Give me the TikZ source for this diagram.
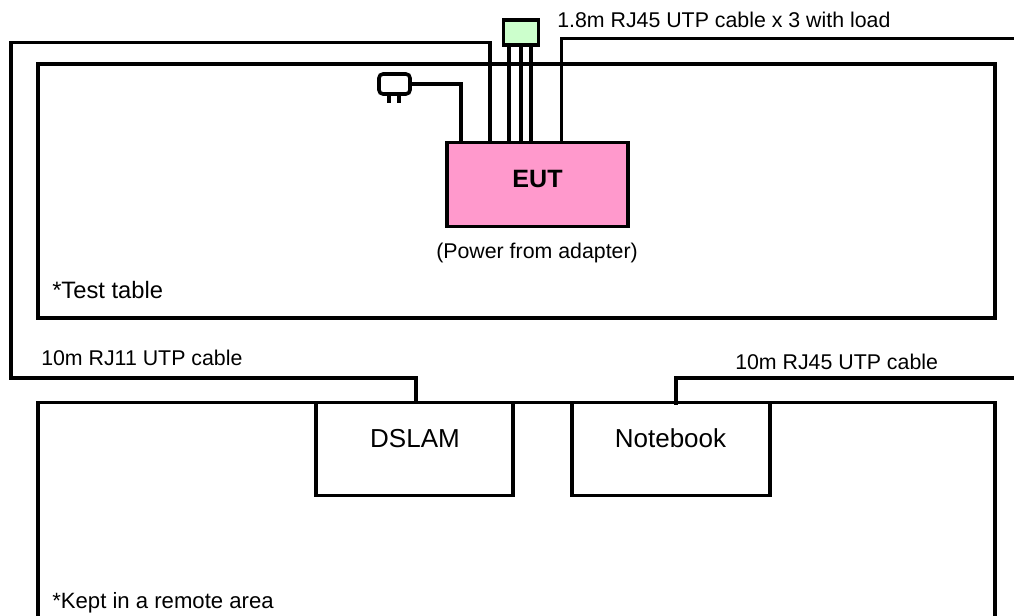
\documentclass[tikz,border=0pt]{standalone}
\usepackage{fontspec}
\setmainfont{Liberation Sans}
\tikzset{
  px/.style={x=0.75pt,y=-0.75pt},
  wire/.style={draw=black,line width=2.7pt,line join=miter},
  box/.style={draw=black,line width=2.7pt,fill=white,inner sep=0pt,outer sep=0pt,anchor=north west},
  lbl/.style={inner sep=0pt,anchor=base west,font=\fontsize{16pt}{19pt}\selectfont},
  boxlbl/.style={inner sep=0pt,anchor=base,font=\fontsize{19.5pt}{23pt}\selectfont}
}
\begin{document}
\begin{tikzpicture}[px]
\useasboundingbox (0,0) rectangle (1014,616);
\fill[white] (0,0) rectangle (1014,616);
% frames
\node[box,minimum width=957*0.75pt,minimum height=254*0.75pt] (table) at (38,64) {};
\node[box,minimum width=957*0.75pt,minimum height=240*0.75pt] (remote) at (38,402.5) {};
% hardware boxes
\node[box,minimum width=181*0.75pt,minimum height=84*0.75pt,fill={rgb,255:red,255;green,153;blue,204}] (eut) at (447,142.5) {};
\node[font=\fontsize{18.8pt}{22pt}\selectfont\bfseries,inner sep=0pt,anchor=base] (eutl) at (537.5,187.5) {EUT};
\node[box,minimum width=197*0.75pt,minimum height=93*0.75pt] (dslam) at (316,402.5) {};
\node[boxlbl] (dslaml) at (415,448) {DSLAM};
\node[box,minimum width=198*0.75pt,minimum height=93*0.75pt] (nb) at (572,402.5) {};
\node[boxlbl] (nbl) at (670.5,448) {Notebook};
\node[box,minimum width=35*0.75pt,minimum height=25*0.75pt,fill={rgb,255:red,204;green,255;blue,204}] (load) at (503.5,20) {};
\node[draw=black,line width=2.7pt,rounded corners=3pt,minimum width=31*0.75pt,minimum height=20*0.75pt,inner sep=0pt,outer sep=0pt,anchor=north west] (plug) at (379,74) {};
% free ends
\coordinate (e1) at (1014,38.5);
\coordinate (e2) at (1014,378);
\coordinate (p1) at (389,94);
\coordinate (p1e) at (389,103);
\coordinate (p2) at (399,94);
\coordinate (p2e) at (399,103);
% connectors
\draw[wire] (490,142) |- (11,42.5) |- (416,378) -- (416,403);
\draw[wire] (561.5,142) |- (e1);
\draw[wire] (676,405) |- (e2);
\draw[wire] (plug.east) -| (461,142);
\draw[wire] (p1) -- (p1e);
\draw[wire] (p2) -- (p2e);
\draw[wire] (509,45) -- (509,142);
\draw[wire] (521,45) -- (521,142);
\draw[wire] (531,45) -- (531,142);
% labels
\node[lbl] (t1) at (557,28) {1.8m RJ45 UTP cable x 3 with load};
\node[lbl] (t2) at (436,258.5) {(Power from adapter)};
\node[lbl,font=\fontsize{17.8pt}{21pt}\selectfont] (t3) at (52,299) {*Test table};
\node[lbl] (t4) at (41,366) {10m RJ11 UTP cable};
\node[lbl] (t5) at (735,369.5) {10m RJ45 UTP cable};
\node[lbl,font=\fontsize{16.6pt}{20pt}\selectfont] (t6) at (52,608.5) {*Kept in a remote area};
\end{tikzpicture}
\end{document}
